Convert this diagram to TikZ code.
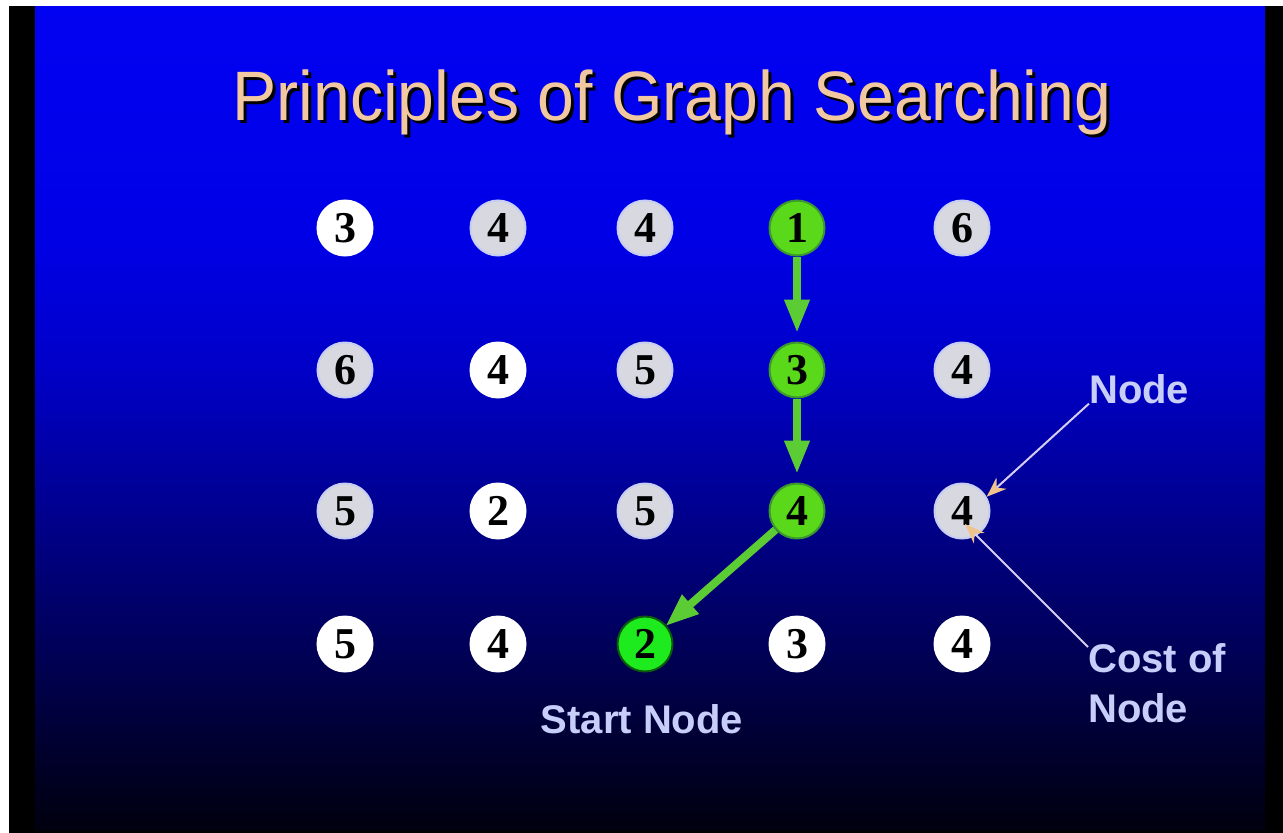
\documentclass[tikz,border=0pt]{standalone}
\usepackage{fontspec}
\setmainfont{Liberation Serif}
\setsansfont{Liberation Sans}
\usetikzlibrary{arrows.meta,positioning,calc}

\definecolor{bgA}{RGB}{0,0,14}
\definecolor{bgB}{RGB}{0,0,40}
\definecolor{bgC}{RGB}{0,0,85}
\definecolor{bgD}{RGB}{0,0,140}
\definecolor{bgE}{RGB}{0,0,200}
\definecolor{bgF}{RGB}{0,0,230}
\definecolor{bgG}{RGB}{2,2,242}
\definecolor{cellgrey}{RGB}{216,216,224}
\definecolor{celledge}{RGB}{200,205,245}
\definecolor{pathgreen}{RGB}{90,216,26}
\definecolor{pathedge}{RGB}{58,150,48}
\definecolor{startgreen}{RGB}{30,235,30}
\definecolor{startedge}{RGB}{12,90,12}
\definecolor{arrowgreen}{RGB}{92,204,52}
\definecolor{leaderline}{RGB}{215,205,240}
\definecolor{tipbeige}{RGB}{240,195,140}
\definecolor{notelav}{RGB}{200,206,250}
\definecolor{titlepeach}{RGB}{242,200,160}

\newcommand{\titletext}{Principles of Graph Searching}

\pgfdeclareverticalshading{slidebg}{100bp}{color(0bp)=(bgA); color(25bp)=(bgA);
  color(29bp)=(bgB); color(35.6bp)=(bgC); color(44bp)=(bgD); color(53bp)=(bgE);
  color(61bp)=(bgF); color(75bp)=(bgG); color(100bp)=(bgG)}

\begin{document}
\begin{tikzpicture}[x=1pt, y=-1pt, >=Stealth,
   cell/.style={circle, minimum size=55pt, inner sep=0pt, line width=2pt,
                font=\fontsize{44}{44}\selectfont\bfseries, text=black},
   whitecell/.style={cell, fill=white, draw=white},
   greycell/.style={cell, fill=cellgrey, draw=celledge},
   pathcell/.style={cell, fill=pathgreen, draw=pathedge},
   startcell/.style={cell, fill=startgreen, draw=startedge},
   patharrow/.style={-{Triangle[length=32pt, width=26pt, line width=1pt]},
                     line width=8pt, draw=arrowgreen, shorten >=10pt},
   leader/.style={-{Stealth[length=20pt, width=15pt, color=tipbeige, fill=tipbeige]},
                  line width=2pt, draw=leaderline},
   note/.style={inner sep=0pt, text=notelav,
                font=\fontsize{40}{50}\selectfont\sffamily\bfseries},
   heading/.style={inner sep=0pt, anchor=base, text=titlepeach,
                   font=\fontsize{70}{70}\selectfont\sffamily}]
  \useasboundingbox (0,0) rectangle (1283,833);
  \fill[white] (0,0) rectangle (1283,833);
  \fill[black] (9,6) rectangle (1283,833);
  \shade[shading=slidebg] (35,6) rectangle (1265,830);

  % title with its drop shadow
  \node[heading] (title) at (672,120)
       {\scalebox{0.945}[1]{\rlap{\kern3pt\raisebox{-3pt}{\textcolor{black}{\titletext}}}\titletext}};

  % grid of nodes with their costs
  \node[whitecell] (n11) at (345,228) {3};
  \node[greycell]  (n12) at (498,228) {4};
  \node[greycell]  (n13) at (645,228) {4};
  \node[pathcell]  (n14) at (797,228) {1};
  \node[greycell]  (n15) at (962,228) {6};

  \node[greycell]  (n21) at (345,370) {6};
  \node[whitecell] (n22) at (498,370) {4};
  \node[greycell]  (n23) at (645,370) {5};
  \node[pathcell]  (n24) at (797,370) {3};
  \node[greycell]  (n25) at (962,370) {4};

  \node[greycell]  (n31) at (345,511) {5};
  \node[whitecell] (n32) at (498,511) {2};
  \node[greycell]  (n33) at (645,511) {5};
  \node[pathcell]  (n34) at (797,511) {4};
  \node[greycell]  (n35) at (962,511) {4};

  \node[whitecell] (n41) at (345,644) {5};
  \node[whitecell] (n42) at (498,644) {4};
  \node[startcell] (n43) at (645,644) {2};
  \node[whitecell] (n44) at (797,644) {3};
  \node[whitecell] (n45) at (962,644) {4};

  % path
  \draw[patharrow] (n14) -- (n24);
  \draw[patharrow] (n24) -- (n34);
  \draw[patharrow, shorten >=0pt] (n34) -- (n43);

  % labels
  \node[note, anchor=base] (startlbl) at (642,733) {Start Node};
  \node[note, anchor=base west] (nodelbl) at (1089,403) {Node};
  \node[note, anchor=north west, align=left] (costlbl) at (1088,643) {Cost of\\Node};
  \coordinate (costtip) at ([shift={(3,13)}]n35.center);
  \draw[leader] (nodelbl.south west) -- (n35.30);
  \draw[leader] ([yshift=-4pt]costlbl.north west) -- (costtip);
\end{tikzpicture}
\end{document}
